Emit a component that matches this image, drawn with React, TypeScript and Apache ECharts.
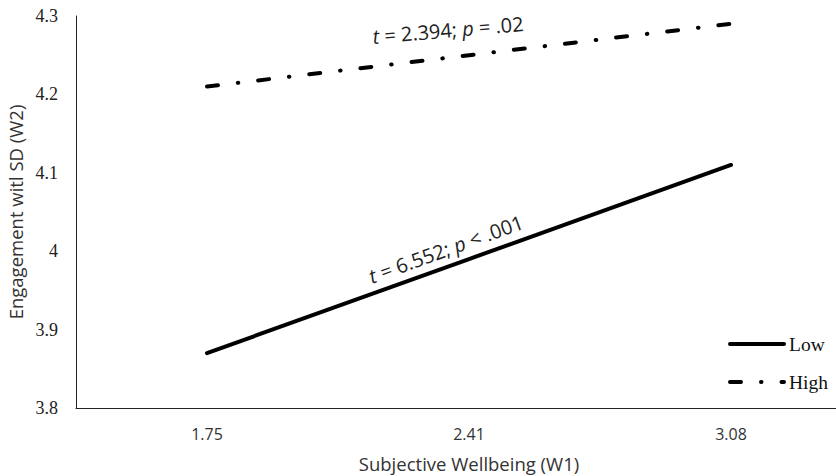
import React, { useEffect, useRef } from 'react';
import * as echarts from 'echarts';

const categories = ['1.75', '2.41', '3.08'];
const lowValues = [3.87, 3.99, 4.11];
const highValues = [4.21, 4.25, 4.29];
const seriesNames = ['Low', 'High'];
const yMin = 3.8;
const yMax = 4.3;
const yInterval = 0.1;
const xTitle = 'Subjective Wellbeing (W1)';
const yTitle = 'Engagement witl SD (W2)';
const lowNote = '{i|t} = 6.552; {i|p} < .001';
const highNote = '{i|t} = 2.394; {i|p} = .02';

const SANS = '"Open Sans", "Noto Sans", sans-serif';
const SERIF = '"Liberation Serif", "DejaVu Serif", serif';

export default function App() {
  const ref = useRef<HTMLDivElement>(null);
  useEffect(() => {
    if (!ref.current) return;
    const chart = echarts.init(ref.current, undefined, { renderer: 'svg' });
    const noteStyle = (text: string) => ({
      text,
      font: `20px ${SANS}`,
      fill: '#222',
      align: 'center',
      verticalAlign: 'middle',
      rich: {
        i: { fontStyle: 'italic', fontFamily: SANS, fontSize: 20, fill: '#222' },
      },
    });
    chart.setOption({
      animation: false,
      backgroundColor: '#fff',
      grid: { left: 76, top: 16, width: 786, height: 392, containLabel: false, outerBoundsMode: 'none' },
      xAxis: {
        type: 'category',
        data: categories,
        boundaryGap: true,
        axisLine: { show: true, lineStyle: { color: '#222', width: 1 } },
        axisTick: { show: false },
        axisLabel: { margin: 18, fontFamily: SANS, fontSize: 16, color: '#333' },
        splitLine: { show: false },
        name: xTitle,
        nameLocation: 'middle',
        nameGap: 46,
        nameTextStyle: { fontFamily: SANS, fontSize: 18.5, color: '#333' },
      },
      yAxis: {
        type: 'value',
        min: yMin,
        max: yMax,
        interval: yInterval,
        axisLine: { show: true, lineStyle: { color: '#222', width: 1 } },
        axisTick: { show: false },
        splitLine: { show: false },
        axisLabel: { margin: 18, fontFamily: SERIF, fontSize: 18, color: '#222' },
        name: yTitle,
        nameLocation: 'middle',
        nameGap: 49,
        nameTextStyle: { fontFamily: SANS, fontSize: 18.5, color: '#333' },
      },
      legend: {
        orient: 'vertical',
        left: 728,
        top: 334,
        padding: 0,
        itemWidth: 54,
        itemHeight: 14,
        itemGap: 18,
        data: seriesNames,
        textStyle: { fontFamily: SERIF, fontSize: 19.5, color: '#111', lineHeight: 20 },
        lineStyle: { width: 4, cap: 'round' },
        itemStyle: { color: 'rgba(0,0,0,0)', borderColor: 'rgba(0,0,0,0)', borderWidth: 0 },
      },
      series: [
        {
          name: seriesNames[0],
          type: 'line',
          data: lowValues,
          symbol: 'none',
          lineStyle: { color: '#000', width: 4, type: 'solid', cap: 'round' },
          itemStyle: { color: '#000' },
        },
        {
          name: seriesNames[1],
          type: 'line',
          data: highValues,
          symbol: 'none',
          lineStyle: { color: '#000', width: 4, type: [11, 20, 0.5, 20], cap: 'round' },
          itemStyle: { color: '#000' },
        },
      ],
      graphic: [
        { type: 'text', x: 446, y: 249, rotation: (20 * Math.PI) / 180, style: noteStyle(lowNote) },
        { type: 'text', x: 448, y: 30, rotation: (5 * Math.PI) / 180, style: noteStyle(highNote) },
      ],
    });
    return () => chart.dispose();
  }, []);
  return <div ref={ref} style={{ position: 'absolute', left: 0, top: 0, width: 836, height: 476 }} />;
}
